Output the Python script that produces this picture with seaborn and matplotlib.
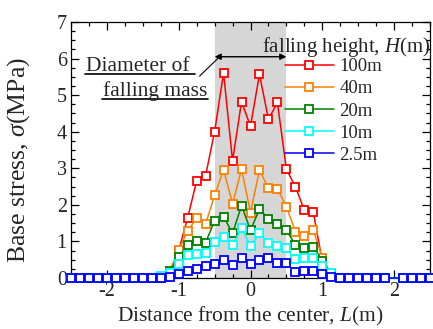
import numpy as np
import pandas as pd
import matplotlib
matplotlib.use("Agg")
import matplotlib.pyplot as plt
import seaborn as sns

# ---------------- data ----------------
distance = [-2.5, -2.375, -2.25, -2.125, -2.0, -1.875, -1.75, -1.625, -1.5, -1.375,
            -1.25, -1.125, -1.0, -0.875, -0.75, -0.625, -0.5, -0.375, -0.25, -0.125,
            0.0, 0.125, 0.25, 0.375, 0.5, 0.625, 0.75, 0.875, 1.0, 1.125,
            1.25, 1.375, 1.5, 1.625, 1.75, 1.875, 2.125, 2.25, 2.375, 2.5]

stress_100m = [0, 0, 0, 0, 0, 0, 0, 0, 0, 0,
               0.0, 0.15, 0.75, 1.65, 2.65, 2.80, 4.00, 5.61, 3.20, 4.82,
               4.15, 5.57, 4.34, 4.80, 2.97, 2.50, 1.85, 1.80, 0.45, 0.05,
               0, 0, 0, 0, 0, 0, 0, 0, 0, 0]
stress_40m = [0, 0, 0, 0, 0, 0, 0, 0, 0, 0,
              0.03, 0.20, 0.77, 1.29, 1.63, 1.48, 2.26, 2.96, 2.03, 2.98,
              1.79, 2.95, 2.45, 2.44, 1.95, 1.27, 1.14, 1.30, 0.56, 0.10,
              0, 0, 0, 0, 0, 0, 0, 0, 0, 0]
stress_20m = [0, 0, 0, 0, 0, 0, 0, 0, 0, 0,
              0.03, 0.18, 0.57, 0.91, 1.01, 0.97, 1.56, 1.68, 1.22, 1.98,
              1.31, 1.88, 1.62, 1.47, 1.31, 0.91, 0.81, 0.86, 0.47, 0.10,
              0, 0, 0, 0, 0, 0, 0, 0, 0, 0]
stress_10m = [0, 0, 0, 0, 0, 0, 0, 0, 0, 0,
              0.05, 0.15, 0.37, 0.62, 0.65, 0.68, 0.98, 1.12, 0.89, 1.36,
              0.88, 1.22, 0.97, 0.88, 0.81, 0.52, 0.56, 0.56, 0.33, 0.15,
              0, 0, 0, 0, 0, 0, 0, 0, 0, 0]
stress_2_5m = [0, 0, 0, 0, 0, 0, 0, 0, 0, 0,
               0.0, 0.03, 0.10, 0.19, 0.25, 0.33, 0.38, 0.49, 0.36, 0.56,
               0.38, 0.49, 0.56, 0.41, 0.40, 0.16, 0.19, 0.19, 0.10, 0.03,
               0, 0, 0, 0, 0, 0, 0, 0, 0, 0]

series_labels = ["100m", "40m", "20m", "10m", "2.5m"]
series_values = [stress_100m, stress_40m, stress_20m, stress_10m, stress_2_5m]
series_colors = ["#ff0000", "#ff8000", "#008000", "#00ffff", "#0000ff"]

x_ticks = [-2, -1, 0, 1, 2]
x_tick_labels = ["-2", "-1", "0", "1", "2"]
y_ticks = [0, 1, 2, 3, 4, 5, 6, 7]
mass_diameter = [-0.5, 0.5]

# ---------------- style ----------------
sns.set_style("ticks")
plt.rcParams["font.family"] = ["Liberation Serif", "DejaVu Serif"]
plt.rcParams["mathtext.fontset"] = "custom"
plt.rcParams["mathtext.rm"] = "Liberation Serif"
plt.rcParams["mathtext.it"] = "Liberation Serif:italic"
plt.rcParams["axes.unicode_minus"] = False

fig = plt.figure(figsize=(4.33, 3.29), dpi=100)
ax = fig.add_axes([71 / 433, 1 - 278 / 329, (430 - 71) / 433, (278 - 22) / 329])

ax.axvspan(mass_diameter[0], mass_diameter[1], color="#d6d6d6", lw=0, zorder=0)

for lab, vals, col in zip(series_labels, series_values, series_colors):
    df = pd.DataFrame({"L": distance, "sigma": vals})
    sns.lineplot(data=df, x="L", y="sigma", ax=ax, color=col, lw=1.1,
                 marker="s", markersize=5.3, markerfacecolor="white",
                 markeredgecolor=col, markeredgewidth=1.3, label=lab,
                 estimator=None, sort=False, clip_on=False, zorder=3)

ax.set_xlim(-2.5, 2.5)
ax.set_ylim(0, 7)
ax.set_xticks(x_ticks)
ax.set_xticklabels(x_tick_labels)
ax.set_yticks(y_ticks)
ax.xaxis.set_minor_locator(matplotlib.ticker.MultipleLocator(0.25))
ax.yaxis.set_minor_locator(matplotlib.ticker.MultipleLocator(0.25))
ax.tick_params(which="both", direction="in", top=True, right=True,
               labelsize=14.5, color="black", width=0.9)
ax.tick_params(which="major", length=6)
ax.tick_params(which="minor", length=3)
ax.tick_params(axis="x", pad=3)
ax.tick_params(axis="y", pad=3)
for s in ax.spines.values():
    s.set_linewidth(0.9)
    s.set_color("black")

ax.set_xlabel("Distance from the center, $L$(m)", fontsize=15.5, labelpad=3)
ax.set_ylabel("Base stress, $\\sigma$(MPa)", fontsize=18.5)
ax.yaxis.set_label_coords((32 - 71) / 359, 0.46)

# legend
leg = ax.legend(loc="upper left", bbox_to_anchor=((285 - 71) / 359, (278 - 58) / 256),
                frameon=False, fontsize=13.5, handlelength=2.6, handletextpad=0.3,
                labelspacing=0.27, borderpad=0, borderaxespad=0)
ax.text(0.16, 6.17, "falling height, $H$(m)", fontsize=15, ha="left", va="baseline")

# diameter arrow and annotation
ax.annotate("", xy=(mass_diameter[0], 6.05), xytext=(mass_diameter[1], 6.05),
            arrowprops=dict(arrowstyle="<|-|>", color="black", lw=1.0,
                            mutation_scale=9, shrinkA=0, shrinkB=0))
ax.annotate("", xy=(-0.43, 6.05), xytext=(-0.71, 5.52),
            arrowprops=dict(arrowstyle="-", color="black", lw=0.8,
                            shrinkA=0, shrinkB=0))
ax.text(-2.29, 5.66, "Diameter of", fontsize=15.5, ha="left", va="baseline")
ax.text(-2.05, 4.97, "falling mass", fontsize=15.5, ha="left", va="baseline")
ax.plot([-2.305, -0.773], [5.57, 5.57], color="black", lw=1.2)
ax.plot([-2.068, -0.592], [4.89, 4.89], color="black", lw=1.2)

fig.savefig("out.png", dpi=100)
